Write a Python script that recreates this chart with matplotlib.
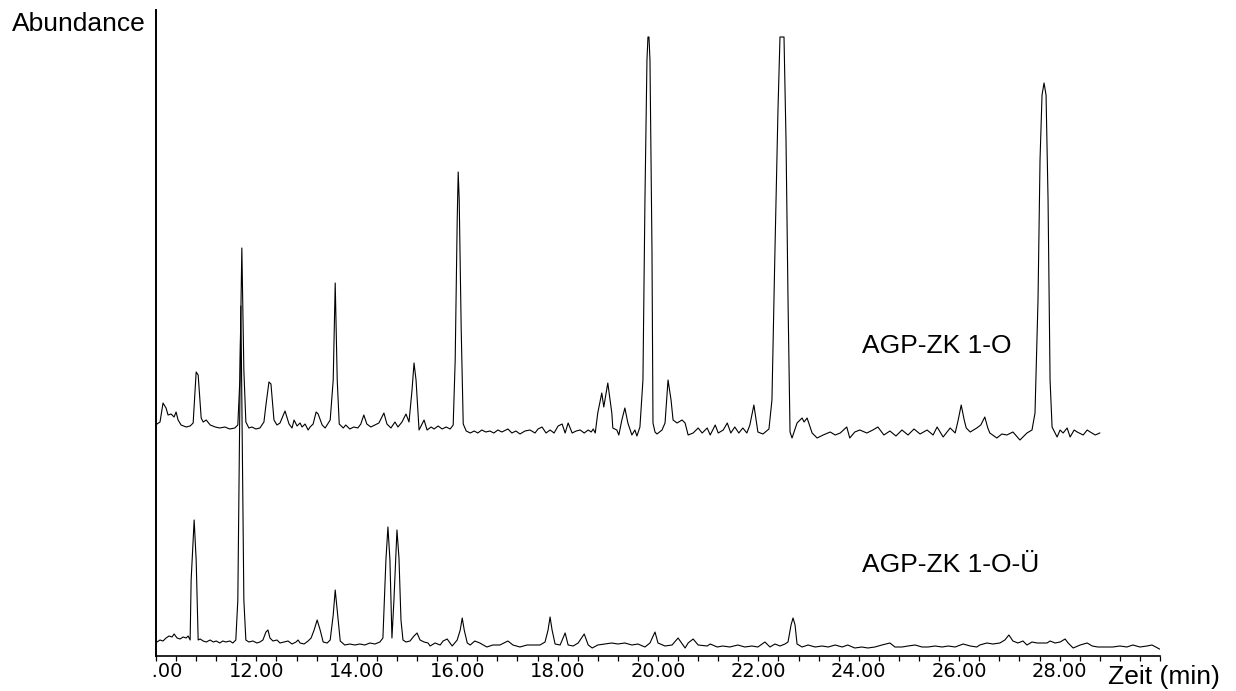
import matplotlib
matplotlib.use("Agg")
import matplotlib.pyplot as plt
from matplotlib.transforms import Bbox, TransformedBbox
from matplotlib.ticker import MultipleLocator

### chromatogram data: retention time (min) and abundance (arb. units, above own baseline)
upper_time = [10.02, 10.08, 10.14, 10.20, 10.24, 10.30, 10.36, 10.40, 10.44, 10.50,
              10.60, 10.68, 10.74, 10.80, 10.84, 10.90, 10.94, 11.00, 11.08, 11.18,
              11.27, 11.37, 11.47, 11.57, 11.63, 11.67, 11.71, 11.75, 11.79, 11.85,
              11.91, 11.99, 12.07, 12.15, 12.19, 12.25, 12.29, 12.35, 12.41, 12.47,
              12.57, 12.65, 12.71, 12.75, 12.81, 12.87, 12.91, 12.97, 13.03, 13.07,
              13.13, 13.19, 13.23, 13.31, 13.37, 13.47, 13.53, 13.57, 13.61, 13.65,
              13.73, 13.78, 13.86, 13.94, 14.02, 14.08, 14.14, 14.20, 14.28, 14.36,
              14.44, 14.54, 14.60, 14.68, 14.76, 14.82, 14.90, 14.98, 15.04, 15.10,
              15.14, 15.18, 15.24, 15.34, 15.40, 15.48, 15.54, 15.62, 15.70, 15.78,
              15.86, 15.92, 15.96, 16.00, 16.02, 16.04, 16.08, 16.12, 16.18, 16.26,
              16.34, 16.41, 16.49, 16.57, 16.65, 16.73, 16.81, 16.89, 17.01, 17.09,
              17.17, 17.25, 17.35, 17.45, 17.55, 17.61, 17.69, 17.77, 17.85, 17.93,
              18.01, 18.09, 18.15, 18.21, 18.29, 18.37, 18.45, 18.53, 18.61, 18.67,
              18.71, 18.75, 18.80, 18.88, 18.92, 19.00, 19.08, 19.10, 19.18, 19.22,
              19.28, 19.34, 19.40, 19.48, 19.54, 19.58, 19.64, 19.70, 19.74, 19.78,
              19.80, 19.82, 19.84, 19.88, 19.90, 19.94, 19.98, 20.08, 20.14, 20.20,
              20.26, 20.30, 20.38, 20.48, 20.54, 20.60, 20.70, 20.80, 20.88, 20.98,
              21.04, 21.14, 21.20, 21.30, 21.38, 21.45, 21.53, 21.61, 21.69, 21.77,
              21.83, 21.91, 21.99, 22.09, 22.21, 22.27, 22.33, 22.39, 22.43, 22.51,
              22.55, 22.59, 22.63, 22.67, 22.77, 22.87, 22.91, 22.97, 23.07, 23.17,
              23.29, 23.43, 23.53, 23.63, 23.76, 23.82, 23.92, 24.02, 24.16, 24.28,
              24.38, 24.50, 24.62, 24.74, 24.86, 24.98, 25.10, 25.22, 25.36, 25.48,
              25.56, 25.68, 25.82, 25.92, 25.98, 26.04, 26.10, 26.14, 26.22, 26.35,
              26.43, 26.51, 26.57, 26.61, 26.75, 26.85, 26.95, 27.07, 27.21, 27.35,
              27.45, 27.51, 27.57, 27.61, 27.65, 27.69, 27.73, 27.77, 27.81, 27.85,
              27.95, 28.01, 28.07, 28.15, 28.21, 28.29, 28.35, 28.47, 28.55, 28.61,
              28.71, 28.80]
upper_abund = [5, 7, 26, 21, 14, 15, 12, 17, 9, 4,
               2, 3, 6, 57, 54, 11, 7, 9, 4, 2,
               1, 2, 0, 1, 4, 49, 181, 59, 7, 1,
               2, 0, 1, 7, 24, 47, 45, 9, 4, 6,
               18, 5, 1, 9, 3, 6, 2, 5, -1, 2,
               5, 17, 15, 4, 1, 9, 49, 146, 49, 5,
               1, 4, 0, 2, 1, 5, 14, 5, 2, 4,
               6, 16, 5, 1, 7, 2, 7, 15, 7, 39,
               66, 49, -1, 9, -1, 2, 0, 3, 0, 2,
               0, 4, 69, 209, 257, 229, 99, 5, -2, -4,
               -2, -4, -1, -3, -2, -4, -1, -3, 0, -4,
               -2, -5, -2, -1, -4, 0, 2, -4, -1, -4,
               3, 5, -4, 6, -4, -2, -1, -4, -1, -3,
               0, -4, 16, 36, 22, 46, 16, 1, -1, -6,
               9, 21, 6, -6, -1, -7, 2, 49, 229, 369,
               392, 392, 369, 179, 6, -3, -5, -1, 6, 49,
               29, 9, 6, 9, 6, -6, -4, 1, -4, 1,
               -6, 4, -4, -1, 6, -4, 2, -4, 1, -4,
               4, 24, -3, -5, 0, 29, 179, 319, 392, 392,
               289, 129, -3, -9, 6, 11, 7, 11, -4, -9,
               -6, -3, -6, -4, 2, -9, -3, -1, -4, -1,
               2, -6, -2, -7, -1, -6, 0, -5, -1, -6,
               2, -8, 1, -4, 9, 24, 9, 1, -3, 1,
               4, 12, 1, -4, -9, -5, -6, -3, -11, -4,
               -1, 16, 129, 269, 334, 346, 334, 229, 49, 2,
               -8, -1, -4, 1, -8, -1, -3, -6, -1, -3,
               -6, -4]

lower_time = [10.02, 10.08, 10.14, 10.20, 10.26, 10.32, 10.36, 10.42, 10.48, 10.54,
              10.60, 10.64, 10.68, 10.70, 10.76, 10.80, 10.84, 10.88, 10.94, 11.00,
              11.08, 11.14, 11.20, 11.27, 11.33, 11.39, 11.47, 11.53, 11.59, 11.63,
              11.67, 11.69, 11.71, 11.75, 11.79, 11.85, 11.93, 12.01, 12.07, 12.13,
              12.19, 12.23, 12.27, 12.33, 12.41, 12.47, 12.55, 12.63, 12.71, 12.79,
              12.83, 12.87, 12.95, 13.03, 13.09, 13.15, 13.21, 13.27, 13.33, 13.41,
              13.47, 13.53, 13.57, 13.61, 13.67, 13.76, 13.86, 13.96, 14.06, 14.16,
              14.26, 14.36, 14.46, 14.52, 14.58, 14.62, 14.66, 14.70, 14.74, 14.80,
              14.84, 14.88, 14.92, 14.98, 15.06, 15.14, 15.20, 15.26, 15.34, 15.42,
              15.46, 15.56, 15.66, 15.72, 15.80, 15.90, 16.00, 16.06, 16.10, 16.14,
              16.20, 16.26, 16.35, 16.45, 16.59, 16.71, 16.85, 17.01, 17.11, 17.25,
              17.39, 17.51, 17.65, 17.75, 17.81, 17.85, 17.89, 17.95, 18.05, 18.15,
              18.21, 18.31, 18.41, 18.53, 18.61, 18.69, 18.80, 18.94, 19.08, 19.20,
              19.34, 19.48, 19.60, 19.74, 19.84, 19.94, 20.00, 20.14, 20.28, 20.40,
              20.54, 20.60, 20.70, 20.80, 20.98, 21.04, 21.18, 21.29, 21.43, 21.59,
              21.73, 21.87, 21.99, 22.13, 22.23, 22.33, 22.43, 22.53, 22.59, 22.65,
              22.69, 22.73, 22.77, 22.87, 22.99, 23.13, 23.27, 23.39, 23.53, 23.67,
              23.78, 23.92, 24.06, 24.18, 24.32, 24.46, 24.62, 24.72, 24.86, 24.98,
              25.12, 25.26, 25.38, 25.52, 25.66, 25.78, 25.92, 26.08, 26.22, 26.35,
              26.41, 26.55, 26.67, 26.81, 26.91, 26.99, 27.07, 27.17, 27.27, 27.35,
              27.45, 27.55, 27.65, 27.75, 27.81, 27.91, 28.01, 28.11, 28.17, 28.27,
              28.41, 28.55, 28.65, 28.76, 28.94, 29.06, 29.20, 29.34, 29.46, 29.60,
              29.74, 29.84, 29.99]
lower_abund = [0, 2, 1, 4, 6, 5, 8, 4, 3, 5,
               4, 6, 2, 62, 122, 82, 2, 3, 1, 0,
               2, 0, 1, -1, 1, 0, 1, -1, 2, 42,
               242, 336, 242, 42, 2, 0, 1, -1, 0, 2,
               10, 12, 4, 1, 2, -1, 0, 1, -2, 0,
               2, -1, -2, 1, 4, 12, 22, 12, 0, -1,
               2, 27, 52, 32, 1, -3, -2, -3, -2, -3,
               -1, -2, 0, 4, 82, 115, 82, 4, 42, 112,
               84, 22, 2, 0, 1, 6, 9, 2, 0, -1,
               -4, -1, -3, 1, 3, -4, 2, 12, 24, 12,
               -1, -3, 1, -1, -5, -3, -3, 1, -3, -5,
               -3, -3, -3, 0, 12, 25, 12, -2, -3, 9,
               -3, -4, -1, 8, -3, -6, -3, -2, -1, -2,
               -1, -3, -2, -5, -1, 10, -1, -4, -3, 4,
               -6, -1, 3, -3, -4, -2, -5, -4, -5, -3,
               -5, -4, -5, 0, -5, -2, -4, -2, 0, 17,
               24, 17, -2, -5, -3, -5, -4, -5, -3, -5,
               -3, -6, -5, -6, -5, -3, -1, -5, -5, -4,
               -3, -5, -5, -4, -5, -4, -5, -2, -4, -5,
               -3, -1, -2, -1, 2, 7, 1, -1, 1, -3,
               0, -1, -1, -1, 1, -1, 0, 3, -1, -6,
               -3, -1, -4, -5, -5, -5, -4, -5, -3, -5,
               -4, -3, -7]

upper_offset = 227   # stacked display: upper trace shifted up
lower_offset = 14

tick_times = [10, 12, 14, 16, 18, 20, 22, 24, 26, 28]
tick_labels = ["10.00", "12.00", "14.00", "16.00", "18.00", "20.00",
               "22.00", "24.00", "26.00", "28.00"]

upper_name = "AGP-ZK 1-O"
lower_name = "AGP-ZK 1-O-Ü"

W, H = 1236, 691
fig = plt.figure(figsize=(W / 100, H / 100), dpi=100)
ax = fig.add_axes([156 / W, 1 - 656 / H, 1004 / W, 646 / H])

ax.plot(upper_time, [v + upper_offset for v in upper_abund], color="black", lw=0.8)
ax.plot(lower_time, [v + lower_offset for v in lower_abund], color="black", lw=0.8)

ax.set_xlim(10, 30)
ax.set_ylim(0, 646)

for s in ["top", "right"]:
    ax.spines[s].set_visible(False)
ax.spines["left"].set_linewidth(1.4)
ax.spines["bottom"].set_linewidth(1.2)
ax.set_yticks([])

ax.set_xticks(tick_times)
ax.set_xticklabels(tick_labels, fontfamily="DejaVu Sans", fontsize=14)
ax.xaxis.set_minor_locator(MultipleLocator(0.4))
ax.tick_params(axis="x", which="both", direction="out", length=3.6, width=0.9, pad=1)

# the first label is cut at the y axis in the original (only ".00" shows)
clip = TransformedBbox(Bbox.from_extents(-0.0025, -1, 1, 1), ax.transAxes)
first = ax.xaxis.get_major_ticks()[0].label1
first.set_clip_on(True)
first.set_clip_box(clip)

ax.text(24.06, 303, upper_name, fontfamily="Liberation Sans", fontsize=19, va="baseline")
ax.text(24.06, 84, lower_name, fontfamily="Liberation Sans", fontsize=19, va="baseline")

fig.text(12 / W, 1 - 31 / H, "Abundance", fontfamily="Liberation Sans", fontsize=19, va="baseline")
fig.text(1108 / W, 1 - 684 / H, "Zeit (min)", fontfamily="Liberation Sans", fontsize=19, va="baseline")

fig.savefig("out.png", dpi=100)
